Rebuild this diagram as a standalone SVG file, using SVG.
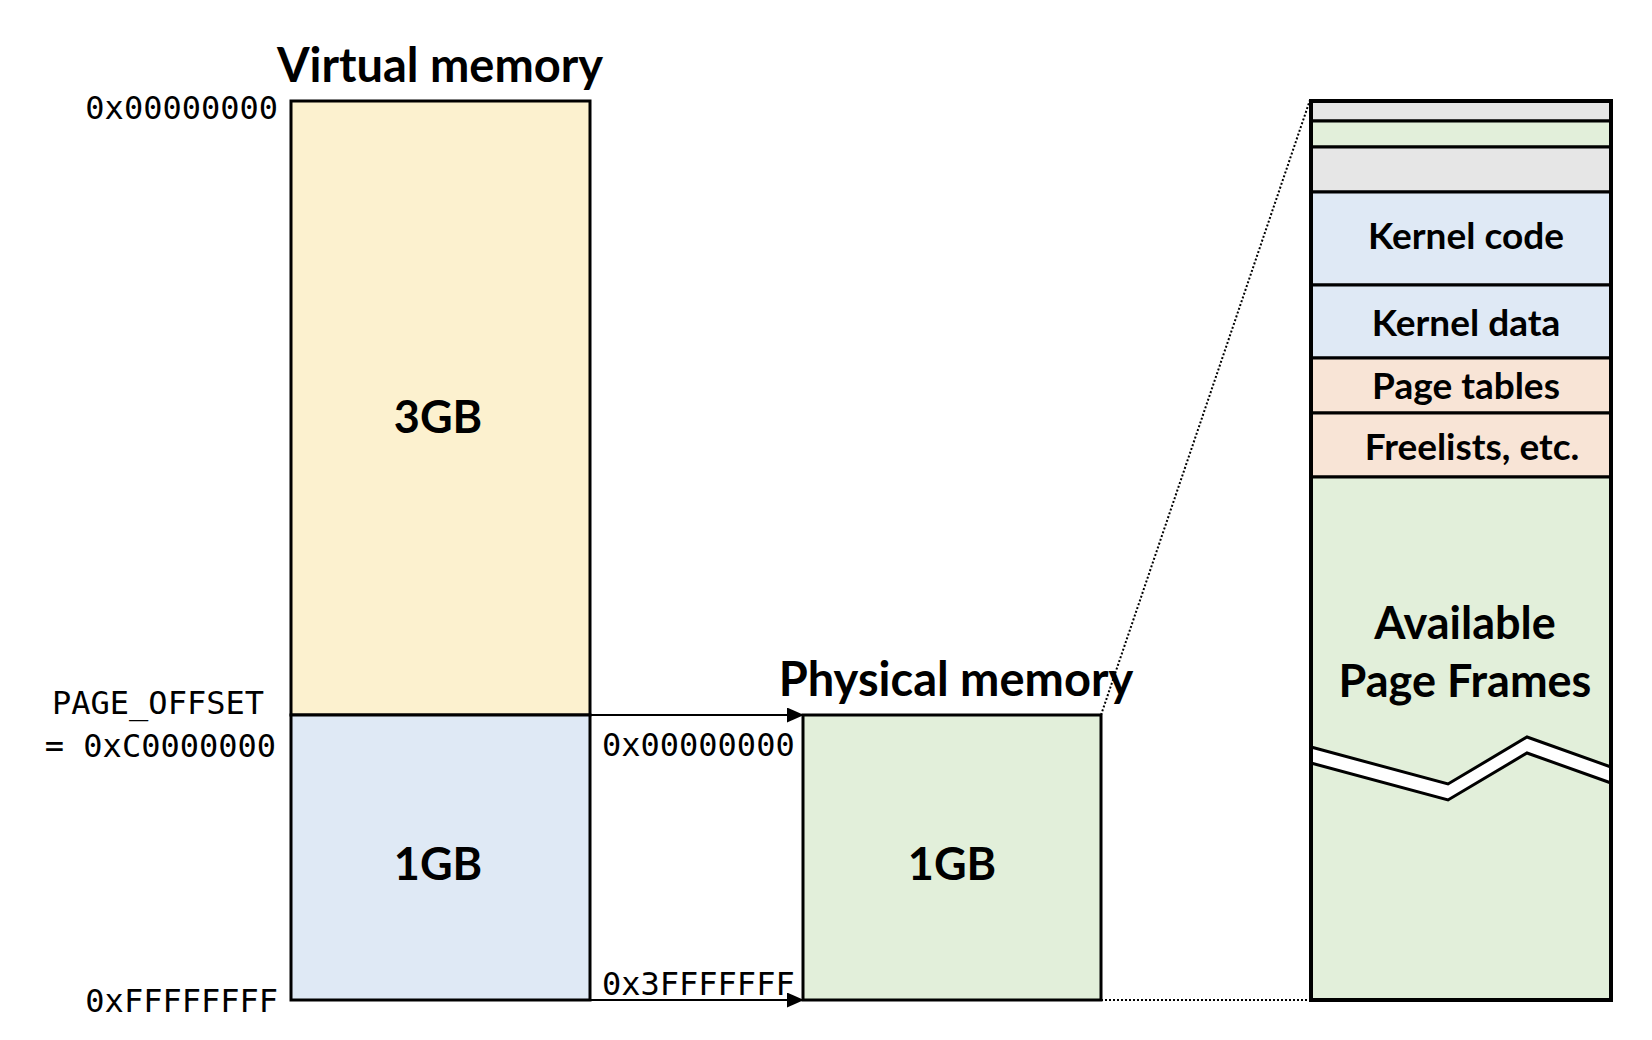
<svg xmlns="http://www.w3.org/2000/svg" width="1652" height="1040" viewBox="0 0 1652 1040">
<style>
.box{stroke:#000;stroke-width:3}
.title{font-family:Lato,"Open Sans","Liberation Sans",sans-serif;font-weight:bold;fill:#000}
.mono{font-family:"DejaVu Sans Mono","Liberation Mono",monospace;font-size:32px;fill:#000}
.big{font-size:45px;text-anchor:middle}
.seg{font-size:37px;text-anchor:middle}
.dot{stroke:#000;stroke-width:2;stroke-dasharray:2 2;fill:none}
.yellow{fill:#FCF1CF}.blue{fill:#DFE9F5}.green{fill:#E2EFDA}.peach{fill:#F8E4D6}.grey{fill:#E6E6E6}
</style>
<defs>
<marker id="arr" markerUnits="userSpaceOnUse" markerWidth="17" markerHeight="15" refX="16" refY="7.5" orient="auto">
<path d="M0,0 L17,7.5 L0,15 Z" fill="#000"/>
</marker>
</defs>
<rect width="1652" height="1040" fill="#fff"/>

<g id="virtual">
<text class="title" x="440" y="82" font-size="47" text-anchor="middle">Virtual memory</text>
<g id="v3gb">
<rect class="box yellow" x="291" y="101" width="299" height="614"/>
<text class="title big" x="438" y="433">3GB</text>
</g>
<g id="v1gb">
<rect class="box blue" x="291" y="715" width="299" height="285"/>
<text class="title big" x="438" y="880">1GB</text>
</g>
<text class="mono" x="278" y="119" text-anchor="end">0x00000000</text>
<text class="mono" x="158" y="714" text-anchor="middle">PAGE_OFFSET</text>
<text class="mono" x="276" y="757" text-anchor="end">= 0xC0000000</text>
<text class="mono" x="278" y="1012" text-anchor="end">0xFFFFFFFF</text>
</g>

<g id="physical">
<text class="title" x="956" y="696" font-size="47" text-anchor="middle">Physical memory</text>
<rect class="box green" x="803" y="715" width="298" height="285"/>
<text class="title big" x="952" y="880">1GB</text>
<text class="mono" x="602" y="756">0x00000000</text>
<text class="mono" x="602" y="995">0x3FFFFFFF</text>
</g>

<g id="layout">
<rect class="box grey" x="1311" y="101" width="300" height="20"/>
<rect class="box green" x="1311" y="121" width="300" height="26"/>
<rect class="box grey" x="1311" y="147" width="300" height="45"/>
<g id="kcode"><rect class="box blue" x="1311" y="192" width="300" height="93"/>
<text class="title seg" x="1466" y="249">Kernel code</text></g>
<g id="kdata"><rect class="box blue" x="1311" y="285" width="300" height="73"/>
<text class="title seg" x="1466" y="336">Kernel data</text></g>
<g id="ptables"><rect class="box peach" x="1311" y="358" width="300" height="55"/>
<text class="title seg" x="1466" y="399">Page tables</text></g>
<g id="freelists"><rect class="box peach" x="1311" y="413" width="300" height="64"/>
<text class="title seg" x="1472" y="460">Freelists, etc.</text></g>
<g id="frames"><rect class="box green" x="1311" y="477" width="300" height="523"/>
<text class="title big" x="1465" y="639" font-size="48">Available</text>
<text class="title big" x="1465" y="697" font-size="48">Page Frames</text>
<polygon points="1311,747 1448,784 1527,737 1611,767 1611,783 1527,753 1448,800 1311,763" fill="#fff"/>
<polyline points="1311,747 1448,784 1527,737 1611,767" fill="none" stroke="#000" stroke-width="3"/>
<polyline points="1311,763 1448,800 1527,753 1611,783" fill="none" stroke="#000" stroke-width="3"/>
</g>
<rect x="1311" y="101" width="300" height="899" fill="none" stroke="#000" stroke-width="4"/>
</g>

<g id="connectors">
<line x1="590" y1="715" x2="803" y2="715" stroke="#000" stroke-width="2" marker-end="url(#arr)"/>
<line x1="590" y1="1000" x2="803" y2="1000" stroke="#000" stroke-width="2" marker-end="url(#arr)"/>
<line class="dot" x1="1101" y1="715" x2="1310" y2="100"/>
<line class="dot" x1="1101" y1="1000" x2="1310" y2="1000"/>
</g>
</svg>
